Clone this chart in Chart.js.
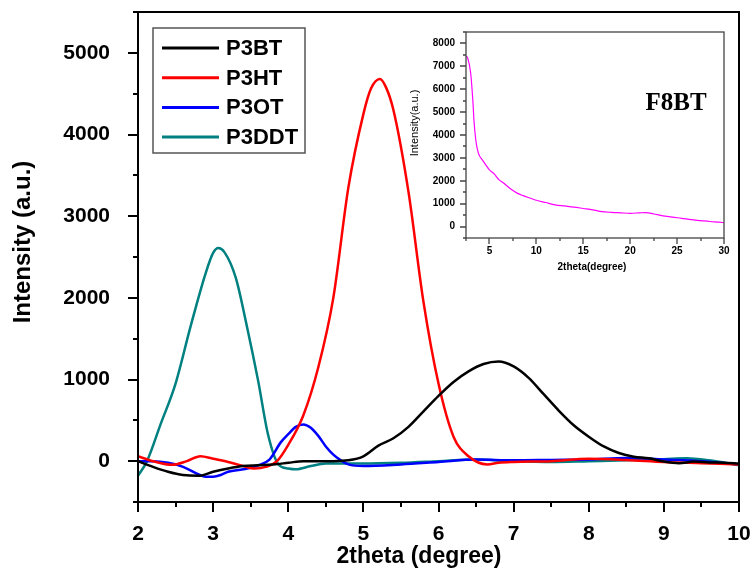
<!DOCTYPE html>
<html>
<head>
<meta charset="utf-8">
<script src="https://cdn.jsdelivr.net/npm/chart.js@4.4.1/dist/chart.umd.min.js"></script>
<style>
  html, body { margin: 0; padding: 0; background: #fff; }
  #wrap { position: relative; width: 756px; height: 571px; }
  #main { position: absolute; left: 0; top: 0; }
  #inset { position: absolute; left: 400px; top: 22px; }
</style>
</head>
<body>
<div id="wrap">
  <canvas id="main" width="756" height="571"></canvas>
  <canvas id="inset" width="340" height="255"></canvas>
</div>
<script>
// main panel data
const p3btX = [2.0, 2.2, 2.4, 2.6, 2.8, 3.0, 3.2, 3.4, 3.6, 3.8, 4.0, 4.2, 4.4, 4.6, 4.8, 5.0, 5.2, 5.4, 5.6, 5.8, 6.0, 6.2, 6.4, 6.6, 6.8, 7.0, 7.2, 7.4, 7.6, 7.8, 8.0, 8.2, 8.4, 8.6, 8.8, 9.0, 9.2, 9.4, 9.6, 9.8, 10.0];
const p3btY = [0, -70, -130, -170, -180, -130, -90, -60, -50, -40, -20, 0, 0, 0, 10, 60, 190, 280, 420, 610, 800, 970, 1100, 1190, 1220, 1160, 1020, 820, 620, 440, 300, 180, 100, 55, 35, -5, -25, -5, -15, -20, -30];

const p3htX = [2.0, 2.2, 2.45, 2.65, 2.83, 3.0, 3.2, 3.4, 3.55, 3.7, 3.85, 4.0, 4.2, 4.4, 4.6, 4.8, 5.0, 5.1, 5.22, 5.3, 5.4, 5.6, 5.8, 6.0, 6.2, 6.4, 6.65, 6.8, 7.0, 7.5, 8.0, 8.5, 9.0, 9.5, 10.0];
const p3htY = [60, 0, -45, 0, 60, 30, -10, -60, -90, -70, 0, 200, 560, 1150, 2000, 3350, 4250, 4560, 4680, 4580, 4300, 3300, 1950, 950, 300, 60, -40, -20, -10, 0, 30, 15, -10, -25, -40];

const p3otX = [2.0, 2.2, 2.4, 2.6, 2.8, 2.9, 3.0, 3.1, 3.2, 3.4, 3.6, 3.75, 3.9, 4.0, 4.1, 4.2, 4.3, 4.4, 4.5, 4.6, 4.7, 4.8, 5.0, 5.5, 6.0, 6.5, 7.0, 7.5, 8.0, 8.5, 9.0, 9.5, 10.0];
const p3otY = [0, 0, -20, -70, -160, -190, -190, -170, -130, -100, -50, 20, 230, 330, 420, 450, 410, 310, 180, 80, 10, -40, -60, -40, -10, 20, 10, 15, 20, 40, 20, 0, -40];

const p3ddtX = [2.0, 2.12, 2.3, 2.5, 2.7, 2.9, 3.0, 3.07, 3.15, 3.3, 3.45, 3.6, 3.73, 3.87, 4.0, 4.1, 4.3, 4.5, 5.0, 5.5, 6.0, 6.5, 7.0, 7.5, 8.0, 8.5, 9.0, 9.3, 9.6, 10.0];
const p3ddtY = [-180, 0, 450, 950, 1650, 2300, 2550, 2610, 2560, 2250, 1650, 980, 330, -40, -90, -100, -60, -30, -30, -20, 0, 20, 0, -10, 0, 10, 25, 35, 10, -50];

// inset (F8BT) data
const f8btX = [2.5, 2.7, 3.0, 3.25, 3.35, 3.55, 3.8, 4.3, 5.0, 5.5, 6.0, 6.5, 7.2, 8.0, 8.6, 9.3, 10, 11, 12, 13, 14, 15, 16, 17, 18, 19, 20, 21, 21.7, 22.5, 23.5, 24.5, 25.5, 26.5, 27.5, 28.5, 29.5, 30];
const f8btY = [7450, 7340, 6700, 5370, 4630, 3760, 3230, 2880, 2480, 2300, 2050, 1900, 1660, 1450, 1350, 1250, 1150, 1050, 950, 900, 850, 790, 730, 650, 620, 600, 580, 600, 610, 550, 470, 410, 360, 300, 260, 220, 190, 170];

const mainTicksY = [0, 1000, 2000, 3000, 4000, 5000];
const insetTicksY = [0, 1000, 2000, 3000, 4000, 5000, 6000, 7000, 8000];

const SANS = "'Liberation Sans', Arial, sans-serif";

const toPoints = (xs, ys) => xs.map((x, i) => ({ x, y: ys[i] }));

// keep the plot area where the picture has it
const fixSize = (w, h) => s => {
  if (w !== undefined) s.width = w;
  if (h !== undefined) s.height = h;
  s.paddingTop = 0;
  s.paddingBottom = 0;
  s.paddingLeft = 0;
  s.paddingRight = 0;
};

// outward major/minor tick marks plus a box round the plot area
const axisMarks = {
  id: 'axisMarks',
  afterDraw(chart, args, opts) {
    const { ctx, chartArea: a, scales: { x, y } } = chart;
    const isMajor = (v, step) => Math.abs(v / step - Math.round(v / step)) < 1e-6;
    ctx.save();
    ctx.strokeStyle = opts.color;
    ctx.lineWidth = opts.lineWidth;
    ctx.beginPath();
    for (let v = y.min; v <= y.max + 1e-6; v += opts.yMinor) {
      const py = Math.round(y.getPixelForValue(v));
      const len = isMajor(v, opts.yMajor) ? opts.majorLen : opts.minorLen;
      ctx.moveTo(a.left, py);
      ctx.lineTo(a.left - len, py);
    }
    for (let v = x.min; v <= x.max + 1e-6; v += opts.xMinor) {
      const px = Math.round(x.getPixelForValue(v));
      const len = isMajor(v, opts.xMajor) ? opts.majorLen : opts.minorLen;
      ctx.moveTo(px, a.bottom);
      ctx.lineTo(px, a.bottom + len);
    }
    ctx.stroke();
    ctx.strokeRect(a.left, a.top, a.right - a.left, a.bottom - a.top);
    ctx.restore();
  },
};

// axis titles and free text
const labels = {
  id: 'labels',
  afterDraw(chart, args, opts) {
    const { ctx } = chart;
    (opts.items || []).forEach(item => {
      ctx.save();
      ctx.fillStyle = '#000';
      ctx.font = item.font;
      ctx.textAlign = 'center';
      ctx.textBaseline = 'middle';
      ctx.translate(item.x, item.y);
      if (item.rotate) ctx.rotate(item.rotate);
      ctx.fillText(item.text, 0, 0);
      ctx.restore();
    });
  },
};

// boxed legend in the top left corner
const boxLegend = {
  id: 'boxLegend',
  afterDraw(chart, args, opts) {
    if (!opts.display) return;
    const { ctx } = chart;
    ctx.save();
    ctx.strokeStyle = '#555';
    ctx.lineWidth = 1.5;
    ctx.strokeRect(opts.left, opts.top, opts.width, opts.height);
    ctx.font = opts.font;
    ctx.textAlign = 'left';
    ctx.textBaseline = 'middle';
    chart.data.datasets.forEach((ds, i) => {
      const yy = opts.firstRow + i * opts.rowGap;
      ctx.strokeStyle = ds.borderColor;
      ctx.lineWidth = 3;
      ctx.beginPath();
      ctx.moveTo(opts.lineStart, yy);
      ctx.lineTo(opts.lineStart + opts.lineLength, yy);
      ctx.stroke();
      ctx.fillStyle = '#000';
      ctx.fillText(ds.label, opts.textX, yy + 1);
    });
    ctx.restore();
  },
};

const lineSet = (label, xs, ys, color) => ({
  label,
  data: toPoints(xs, ys),
  borderColor: color,
  borderWidth: 2.5,
  pointRadius: 0,
  cubicInterpolationMode: 'monotone',
});

new Chart(document.getElementById('main'), {
  type: 'line',
  data: {
    datasets: [
      lineSet('P3BT', p3btX, p3btY, '#000000'),
      lineSet('P3HT', p3htX, p3htY, '#ff0000'),
      lineSet('P3OT', p3otX, p3otY, '#0000ff'),
      lineSet('P3DDT', p3ddtX, p3ddtY, '#008080'),
    ],
  },
  options: {
    responsive: false,
    animation: false,
    layout: { padding: { left: 0, right: 17, top: 12, bottom: 0 } },
    plugins: {
      legend: { display: false },
      tooltip: { enabled: false },
      axisMarks: { color: '#000', lineWidth: 2, majorLen: 10, minorLen: 5, xMajor: 1, xMinor: 0.5, yMajor: 1000, yMinor: 500 },
      labels: {
        items: [
          { text: '2theta (degree)', x: 419, y: 557, font: `bold 23px ${SANS}` },
          { text: 'Intensity (a.u.)', x: 23, y: 242, rotate: -Math.PI / 2, font: `bold 24px ${SANS}` },
        ],
      },
      boxLegend: {
        display: true,
        left: 153, top: 28, width: 152, height: 125,
        firstRow: 48, rowGap: 29.7,
        lineStart: 162, lineLength: 57, textX: 226,
        font: `bold 22px ${SANS}`,
      },
    },
    scales: {
      x: {
        type: 'linear',
        min: 2,
        max: 10,
        afterFit: fixSize(undefined, 69),
        grid: { display: false, drawTicks: false },
        border: { display: false },
        ticks: {
          stepSize: 1,
          padding: 20,
          maxRotation: 0,
          autoSkip: false,
          color: '#000',
          font: { family: SANS, size: 21, weight: 'bold' },
          callback: v => String(v),
        },
      },
      y: {
        type: 'linear',
        min: -500,
        max: 5500,
        afterFit: fixSize(138, undefined),
        grid: { display: false, drawTicks: false },
        border: { display: false },
        ticks: {
          stepSize: 500,
          padding: 28,
          autoSkip: false,
          color: '#000',
          font: { family: SANS, size: 21, weight: 'bold' },
          callback: v => (mainTicksY.includes(v) ? String(v) : ''),
        },
      },
    },
  },
  plugins: [axisMarks, labels, boxLegend],
});

new Chart(document.getElementById('inset'), {
  type: 'line',
  data: {
    datasets: [{
      label: 'F8BT',
      data: toPoints(f8btX, f8btY),
      borderColor: '#ff00ff',
      borderWidth: 1.2,
      pointRadius: 0,
      cubicInterpolationMode: 'monotone',
    }],
  },
  options: {
    responsive: false,
    animation: false,
    layout: { padding: { left: 0, right: 16, top: 10, bottom: 0 } },
    plugins: {
      legend: { display: false },
      tooltip: { enabled: false },
      axisMarks: { color: '#444', lineWidth: 1.3, majorLen: 6, minorLen: 3, xMajor: 5, xMinor: 2.5, yMajor: 1000, yMinor: 500 },
      labels: {
        items: [
          { text: '2theta(degree)', x: 192, y: 245, font: `bold 10px ${SANS}` },
          { text: 'Intensity(a.u.)', x: 15, y: 101, rotate: -Math.PI / 2, font: `11px ${SANS}` },
          { text: 'F8BT', x: 276, y: 82, font: "bold 25px 'Liberation Serif', 'Times New Roman', serif" },
        ],
      },
      boxLegend: { display: false },
    },
    scales: {
      x: {
        type: 'linear',
        min: 2.5,
        max: 30,
        afterFit: fixSize(undefined, 39),
        grid: { display: false, drawTicks: false },
        border: { display: false },
        ticks: {
          stepSize: 2.5,
          padding: 7,
          maxRotation: 0,
          autoSkip: false,
          color: '#000',
          font: { family: SANS, size: 10, weight: 'bold' },
          callback: v => (v % 5 === 0 ? String(v) : ''),
        },
      },
      y: {
        type: 'linear',
        min: -500,
        max: 8500,
        afterFit: fixSize(66, undefined),
        grid: { display: false, drawTicks: false },
        border: { display: false },
        ticks: {
          stepSize: 500,
          padding: 11,
          autoSkip: false,
          color: '#000',
          font: { family: SANS, size: 10, weight: 'bold' },
          callback: v => (insetTicksY.includes(v) ? String(v) : ''),
        },
      },
    },
  },
  plugins: [axisMarks, labels, boxLegend],
});
</script>
</body>
</html>
